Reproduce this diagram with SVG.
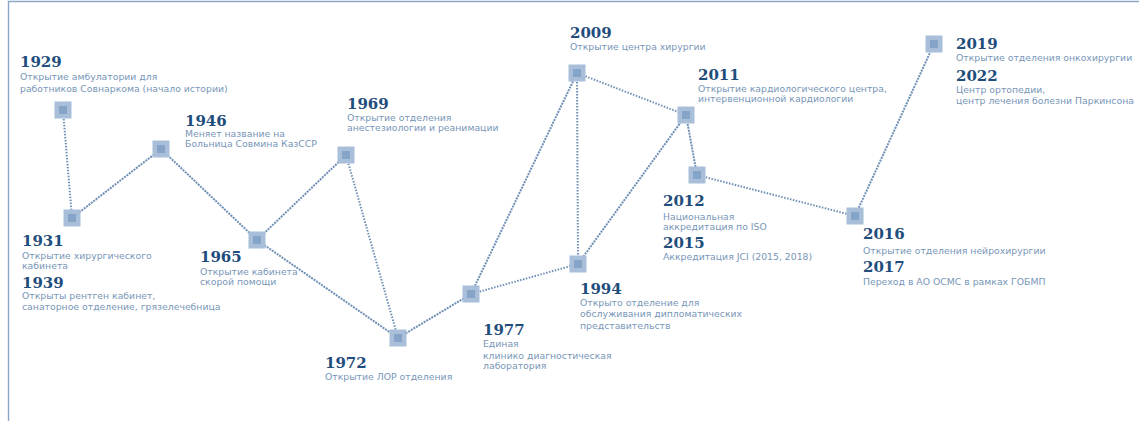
<svg xmlns="http://www.w3.org/2000/svg" width="1139" height="421" viewBox="0 0 1139 421">
<style>
.yr{font-family:"DejaVu Serif","Liberation Serif",serif;font-weight:bold;font-size:15px;fill:#1f4d7c}
.ds{font-family:"DejaVu Sans","Liberation Sans",sans-serif;font-size:9.3px;fill:#7896b8}
.ln{stroke:#6f8fb5;stroke-width:2;fill:none;stroke-dasharray:2 1}
.dt{stroke-dasharray:1.5 1.5}
</style>
<defs>
<g id="sq"><rect x="-8.5" y="-8.5" width="17" height="17" fill="#a9bfd9"/><rect x="-4" y="-4" width="8" height="8" fill="#86a4c8"/></g>
</defs>
<rect x="0" y="0" width="1139" height="421" fill="#ffffff"/>
<path d="M8.5 421V1.5H1139" stroke="#8aa6c9" stroke-width="1.4" fill="none"/>
<g id="connectors">
<line class="ln dt" x1="63" y1="110" x2="72" y2="218"/>
<line class="ln" x1="72" y1="218" x2="161" y2="149"/>
<line class="ln" x1="161" y1="149" x2="257" y2="240"/>
<line class="ln" x1="257" y1="240" x2="346" y2="155"/>
<line class="ln" x1="257" y1="240" x2="398" y2="338"/>
<line class="ln dt" x1="346" y1="155" x2="398" y2="338"/>
<line class="ln" x1="398" y1="338" x2="471" y2="294"/>
<line class="ln" x1="471" y1="294" x2="577" y2="73"/>
<line class="ln dt" x1="471" y1="294" x2="578" y2="264"/>
<line class="ln dt" x1="577" y1="73" x2="578" y2="264"/>
<line class="ln dt" x1="577" y1="73" x2="686" y2="115"/>
<line class="ln" x1="578" y1="264" x2="686" y2="115"/>
<line class="ln" x1="686" y1="115" x2="697" y2="175"/>
<line class="ln dt" x1="697" y1="175" x2="855" y2="216"/>
<line class="ln" x1="855" y1="216" x2="934" y2="44"/>
</g>
<g id="n1929"><use href="#sq" x="63" y="110"/><text class="yr" x="20" y="67">1929</text><text class="ds" x="20" y="80">Открытие амбулатории для</text><text class="ds" x="20" y="92">работников Совнаркома (начало истории)</text></g>
<g id="n1931"><use href="#sq" x="72" y="218"/><text class="yr" x="22" y="246">1931</text><text class="ds" x="22" y="259">Открытие хирургического</text><text class="ds" x="22" y="269">кабинета</text><text class="yr" x="22" y="288">1939</text><text class="ds" x="22" y="299">Открыты рентген кабинет,</text><text class="ds" x="22" y="310">санаторное отделение, грязелечебница</text></g>
<g id="n1946"><use href="#sq" x="161" y="149"/><text class="yr" x="185" y="126">1946</text><text class="ds" x="185" y="137">Меняет название на</text><text class="ds" x="185" y="147">Больница Совмина КазССР</text></g>
<g id="n1965"><use href="#sq" x="257" y="240"/><text class="yr" x="200" y="262">1965</text><text class="ds" x="200" y="275">Открытие кабинета</text><text class="ds" x="200" y="285">скорой помощи</text></g>
<g id="n1969"><use href="#sq" x="346" y="155"/><text class="yr" x="347" y="109">1969</text><text class="ds" x="347" y="121">Открытие отделения</text><text class="ds" x="347" y="131">анестезиологии и реанимации</text></g>
<g id="n1972"><use href="#sq" x="398" y="338"/><text class="yr" x="325" y="368">1972</text><text class="ds" x="325" y="380">Открытие ЛОР отделения</text></g>
<g id="n1977"><use href="#sq" x="471" y="294"/><text class="yr" x="483" y="335">1977</text><text class="ds" x="483" y="347">Единая</text><text class="ds" x="483" y="359">клинико диагностическая</text><text class="ds" x="483" y="369">лаборатория</text></g>
<g id="n2009"><use href="#sq" x="577" y="73"/><text class="yr" x="570" y="38">2009</text><text class="ds" x="570" y="50">Открытие центра хирургии</text></g>
<g id="n1994"><use href="#sq" x="578" y="264"/><text class="yr" x="580" y="294">1994</text><text class="ds" x="580" y="306">Открыто отделение для</text><text class="ds" x="580" y="317">обслуживания дипломатических</text><text class="ds" x="580" y="329">представительств</text></g>
<g id="n2011"><use href="#sq" x="686" y="115"/><text class="yr" x="698" y="80">2011</text><text class="ds" x="698" y="92">Открытие кардиологического центра,</text><text class="ds" x="698" y="102">интервенционной кардиологии</text></g>
<g id="n2012"><use href="#sq" x="697" y="175"/><text class="yr" x="663" y="206">2012</text><text class="ds" x="663" y="220">Национальная</text><text class="ds" x="663" y="230">аккредитация по ISO</text><text class="yr" x="663" y="248">2015</text><text class="ds" x="663" y="260">Аккредитация JCI (2015, 2018)</text></g>
<g id="n2016"><use href="#sq" x="855" y="216"/><text class="yr" x="863" y="239">2016</text><text class="ds" x="863" y="254">Открытие отделения нейрохирургии</text><text class="yr" x="863" y="272">2017</text><text class="ds" x="863" y="285">Переход в АО ОСМС в рамках ГОБМП</text></g>
<g id="n2019"><use href="#sq" x="934" y="44"/><text class="yr" x="956" y="49">2019</text><text class="ds" x="956" y="61">Открытие отделения онкохирургии</text><text class="yr" x="956" y="81">2022</text><text class="ds" x="956" y="93">Центр ортопедии,</text><text class="ds" x="956" y="104">центр лечения болезни Паркинсона</text></g>
</svg>
